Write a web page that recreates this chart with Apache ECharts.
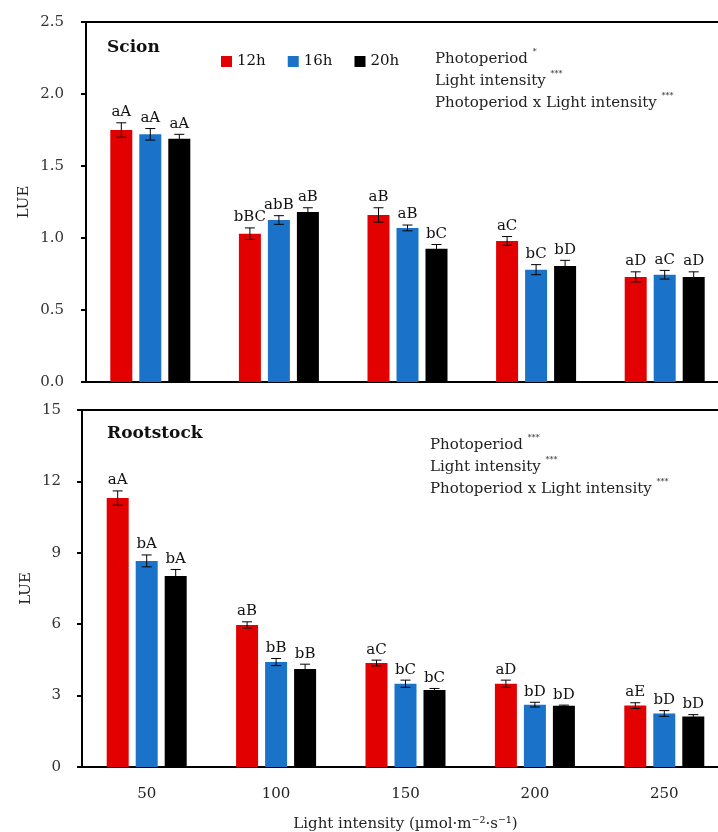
<!DOCTYPE html>
<html lang="en">
<head>
    <meta charset="UTF-8">
    <title>LUE - Scion and Rootstock</title>
    <script src="https://cdn.jsdelivr.net/npm/echarts@6.0.0/dist/echarts.min.js"></script>
    <style>
        html, body { margin: 0; padding: 0; background: #fff; }
    </style>
</head>
<body>
    <div id="main" style="width: 718px; height: 832px;"></div>

    <script>
        // categories and groups
        var categories = ['50', '100', '150', '200', '250'];
        var groups = ['12h', '16h', '20h'];
        var colors = ['#e20000', '#1a73c9', '#000000'];

        // Scion (upper panel)
        var scion12 = [1.75, 1.03, 1.16, 0.98, 0.73];
        var scion16 = [1.72, 1.125, 1.07, 0.78, 0.745];
        var scion20 = [1.69, 1.18, 0.925, 0.805, 0.73];
        var scionErr12 = [0.05, 0.04, 0.05, 0.03, 0.035];
        var scionErr16 = [0.04, 0.03, 0.02, 0.035, 0.03];
        var scionErr20 = [0.03, 0.03, 0.03, 0.04, 0.035];
        var scionLetters12 = ['aA', 'bBC', 'aB', 'aC', 'aD'];
        var scionLetters16 = ['aA', 'abB', 'aB', 'bC', 'aC'];
        var scionLetters20 = ['aA', 'aB', 'bC', 'bD', 'aD'];

        // Rootstock (lower panel)
        var root12 = [11.3, 5.97, 4.37, 3.5, 2.58];
        var root16 = [8.66, 4.41, 3.5, 2.62, 2.25];
        var root20 = [8.03, 4.12, 3.24, 2.57, 2.12];
        var rootErr12 = [0.3, 0.13, 0.12, 0.15, 0.12];
        var rootErr16 = [0.25, 0.15, 0.15, 0.1, 0.12];
        var rootErr20 = [0.27, 0.2, 0.06, 0.03, 0.08];
        var rootLetters12 = ['aA', 'aB', 'aC', 'aD', 'aE'];
        var rootLetters16 = ['bA', 'bB', 'bC', 'bD', 'bD'];
        var rootLetters20 = ['bA', 'bB', 'bC', 'bD', 'bD'];

        var FONT = 'DejaVu Serif';
        var BAR_W = 22;
        var GAP = 7;

        var chart = echarts.init(document.getElementById('main'));

        // error bar + letter label drawn above each bar
        function errSeries(gridIdx, k, vals, errs, letters) {
            var data = vals.map(function (v, i) { return [i, v, errs[i]]; });
            return {
                type: 'custom',
                xAxisIndex: gridIdx,
                yAxisIndex: gridIdx,
                z: 5,
                silent: true,
                data: data,
                renderItem: function (params, api) {
                    var cat = api.value(0), v = api.value(1), e = api.value(2);
                    var off = (k - 1) * (BAR_W + GAP);
                    var top = api.coord([cat, v + e]);
                    var bot = api.coord([cat, v - e]);
                    var x = top[0] + off;
                    var st = { stroke: '#000', lineWidth: 1 };
                    return {
                        type: 'group',
                        children: [
                            { type: 'line', shape: { x1: x, y1: top[1], x2: x, y2: bot[1] }, style: st },
                            { type: 'line', shape: { x1: x - 5, y1: top[1], x2: x + 5, y2: top[1] }, style: st },
                            { type: 'line', shape: { x1: x - 5, y1: bot[1], x2: x + 5, y2: bot[1] }, style: st },
                            {
                                type: 'text',
                                x: x, y: top[1] - 3,
                                style: {
                                    text: letters[params.dataIndex],
                                    fontFamily: FONT, fontSize: 15, fill: '#111',
                                    align: 'center', verticalAlign: 'bottom'
                                }
                            }
                        ]
                    };
                }
            };
        }

        function barSeries(gridIdx, k, vals) {
            return {
                name: groups[k],
                type: 'bar',
                xAxisIndex: gridIdx,
                yAxisIndex: gridIdx,
                barWidth: BAR_W,
                barGap: (GAP / BAR_W * 100) + '%',
                itemStyle: { color: colors[k] },
                data: vals
            };
        }

        var statStyle = {
            fontFamily: FONT, fontSize: 15, fill: '#222', lineHeight: 22,
            rich: {
                s: { fontFamily: FONT, fontSize: 8, verticalAlign: 'top', lineHeight: 12, fill: '#222' }
            }
        };

        var option = {
            animation: false,
            textStyle: { fontFamily: FONT },
            grid: [
                {
                    left: 86, top: 22, height: 360, width: 643,
                    outerBoundsMode: 'none', containLabel: false,
                    show: true, borderColor: '#000', borderWidth: 2
                },
                {
                    left: 82, top: 410, height: 357, width: 647,
                    outerBoundsMode: 'none', containLabel: false,
                    show: true, borderColor: '#000', borderWidth: 2
                }
            ],
            legend: {
                data: groups,
                left: 216, top: 49,
                icon: 'rect',
                itemWidth: 11, itemHeight: 11, itemGap: 22,
                textStyle: { fontFamily: FONT, fontSize: 15, color: '#111' }
            },
            xAxis: [
                {
                    type: 'category', gridIndex: 0, data: categories,
                    axisLine: { lineStyle: { color: '#000', width: 2 } },
                    axisTick: { show: false }, axisLabel: { show: false }
                },
                {
                    type: 'category', gridIndex: 1, data: categories,
                    axisLine: { lineStyle: { color: '#000', width: 2 } },
                    axisTick: { show: false },
                    axisLabel: { fontFamily: FONT, fontSize: 15, color: '#222', margin: 20 },
                    name: 'Light intensity (\u00b5mol\u00b7m\u207b\u00b2\u00b7s\u207b\u00b9)',
                    nameLocation: 'middle', nameGap: 50, nameMoveOverlap: false,
                    nameTextStyle: { fontFamily: FONT, fontSize: 15, color: '#222' }
                }
            ],
            yAxis: [
                {
                    type: 'value', gridIndex: 0, min: 0, max: 2.5, interval: 0.5,
                    axisLine: { show: true, lineStyle: { color: '#000', width: 2 } },
                    axisTick: { show: true, length: 5, lineStyle: { color: '#000', width: 2 } },
                    splitLine: { show: false },
                    axisLabel: {
                        fontFamily: FONT, fontSize: 15, color: '#333', margin: 22,
                        formatter: function (v) { return v.toFixed(1); }
                    },
                    name: 'LUE', nameLocation: 'middle', nameGap: 54, nameMoveOverlap: false,
                    nameTextStyle: { fontFamily: FONT, fontSize: 15, color: '#222' }
                },
                {
                    type: 'value', gridIndex: 1, min: 0, max: 15, interval: 3,
                    axisLine: { show: true, lineStyle: { color: '#000', width: 2 } },
                    axisTick: { show: true, length: 5, lineStyle: { color: '#000', width: 2 } },
                    splitLine: { show: false },
                    axisLabel: { fontFamily: FONT, fontSize: 15, color: '#333', margin: 21 },
                    name: 'LUE', nameLocation: 'middle', nameGap: 48, nameMoveOverlap: false,
                    nameTextStyle: { fontFamily: FONT, fontSize: 15, color: '#222' }
                }
            ],
            graphic: [
                {
                    type: 'text', left: 107, top: 39,
                    style: { text: 'Scion', fontFamily: FONT, fontSize: 17, fontWeight: 'bold', fill: '#111' }
                },
                {
                    type: 'text', left: 107, top: 425,
                    style: { text: 'Rootstock', fontFamily: FONT, fontSize: 17, fontWeight: 'bold', fill: '#111' }
                },
                {
                    type: 'text', left: 435, top: 48,
                    style: Object.assign({}, statStyle, {
                        text: 'Photoperiod {s|*}\nLight intensity {s|***}\nPhotoperiod x Light intensity {s|***}'
                    })
                },
                {
                    type: 'text', left: 430, top: 434,
                    style: Object.assign({}, statStyle, {
                        text: 'Photoperiod {s|***}\nLight intensity {s|***}\nPhotoperiod x Light intensity {s|***}'
                    })
                }
            ],
            series: [
                barSeries(0, 0, scion12),
                barSeries(0, 1, scion16),
                barSeries(0, 2, scion20),
                barSeries(1, 0, root12),
                barSeries(1, 1, root16),
                barSeries(1, 2, root20),
                errSeries(0, 0, scion12, scionErr12, scionLetters12),
                errSeries(0, 1, scion16, scionErr16, scionLetters16),
                errSeries(0, 2, scion20, scionErr20, scionLetters20),
                errSeries(1, 0, root12, rootErr12, rootLetters12),
                errSeries(1, 1, root16, rootErr16, rootLetters16),
                errSeries(1, 2, root20, rootErr20, rootLetters20)
            ]
        };

        chart.setOption(option);
    </script>
</body>
</html>
